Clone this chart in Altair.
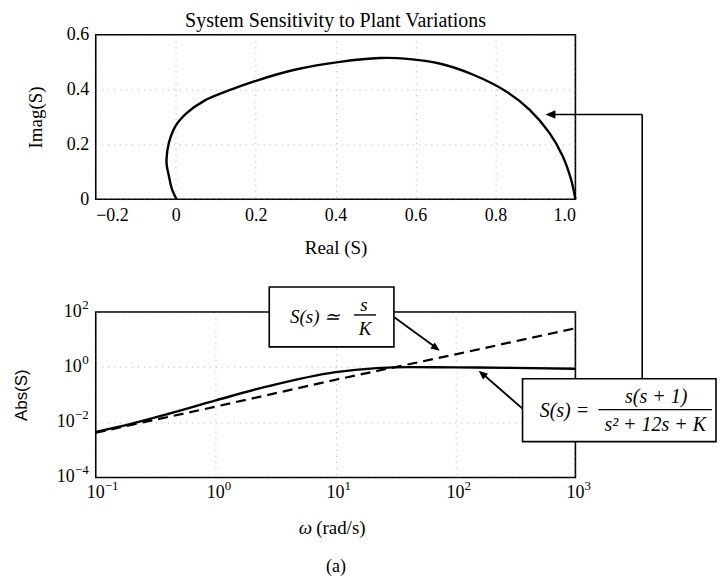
import altair as alt
import pandas as pd

# ---------------- data ----------------
re_s = [0.002, -0.01, -0.017, -0.022, -0.023, -0.017, -0.0005, 0.028, 0.07, 0.128, 0.203,
        0.303, 0.411, 0.511, 0.58, 0.66, 0.743, 0.826, 0.885, 0.935, 0.968, 0.989, 1.0]
im_s = [0.0, 0.04, 0.085, 0.12, 0.145, 0.206, 0.267, 0.315, 0.358, 0.394, 0.433,
        0.474, 0.501, 0.515, 0.512, 0.495, 0.455, 0.394, 0.327, 0.242, 0.158, 0.073, 0.0]

w_solid = [0.1, 0.2, 0.4, 1, 2.7, 10, 22, 42, 100, 300, 1000]
abs_solid = [0.0045, 0.009, 0.02, 0.062, 0.20, 0.66, 0.92, 1.0, 0.98, 0.94, 0.87]
w_dash = [0.1, 1, 10, 100, 1000]
abs_dash = [0.0042, 0.037, 0.35, 2.9, 25.7]

top_xticks = [-0.2, 0, 0.2, 0.4, 0.6, 0.8, 1.0]
top_yticks = [0, 0.2, 0.4, 0.6]
bot_xticks = [0.1, 1, 10, 100, 1000]
bot_xexp = ["\u22121", "0", "1", "2", "3"]
bot_yticks_pos = [1, 100]
bot_yexp_pos = ["0", "2"]
bot_yticks_neg = [1e-4, 1e-2]
bot_yexp_neg = ["\u22124", "\u22122"]

title_text = "System Sensitivity to Plant Variations"

W, H1, H2 = 481, 165, 166
SERIF = "Liberation Serif"
SANS = "Liberation Sans"
FS = 18      # tick labels
FE = 13      # exponents
FT = 19      # axis titles

one = pd.DataFrame({"z": [0]})

# ---------------- top panel ----------------
df_top = pd.DataFrame({"re": re_s, "im": im_s, "k": list(range(len(re_s)))})

lab_top_x = ("datum.value == 0 ? '0' : (datum.value < 0 ? '\u2212' + format(-datum.value, '.1f')"
             " : format(datum.value, '.1f'))")
lab_top_y = "datum.value == 0 ? '0' : format(datum.value, '.1f')"

grid_kw = dict(grid=True, gridColor="#777", gridDash=[1, 5], gridOpacity=0.55, gridWidth=1)

x_top = alt.X("re:Q", scale=alt.Scale(domain=[-0.2, 1.0], nice=False, zero=False),
              axis=alt.Axis(values=top_xticks, labelExpr=lab_top_x, title="Real (S)",
                            labelFont=SERIF, labelFontSize=FS, labelColor="black",
                            labelPadding=7, ticks=False, domain=False,
                            titleFont=SERIF, titleFontSize=FT, titleFontWeight="normal",
                            titleColor="black", titleX=W / 2, titleY=48,
                            titleBaseline="middle", titleAlign="center", **grid_kw))
y_top = alt.Y("im:Q", scale=alt.Scale(domain=[0, 0.6], nice=False),
              axis=alt.Axis(values=top_yticks, labelExpr=lab_top_y, title="Imag(S)",
                            labelFont=SERIF, labelFontSize=FS, labelColor="black",
                            labelPadding=7, ticks=False, domain=False,
                            titleFont=SERIF, titleFontSize=FT, titleFontWeight="normal",
                            titleColor="black", titleX=-60, titleY=H1 / 2, titleAngle=270,
                            titleBaseline="middle", titleAlign="center", **grid_kw))

curve = alt.Chart(df_top).mark_line(color="black", strokeWidth=2.4,
                                    interpolate="catmull-rom").encode(
    x=x_top, y=y_top, order=alt.Order("k:Q"))

base = alt.Chart(one)


def rule(x1, y1, x2, y2, w=1.6):
    return base.mark_rule(color="black", strokeWidth=w).encode(
        x=alt.value(x1), y=alt.value(y1), x2=alt.value(x2), y2=alt.value(y2))


def box(x1, y1, x2, y2):
    return base.mark_rect(fill="white", stroke="black", strokeWidth=1.6).encode(
        x=alt.value(x1), y=alt.value(y1), x2=alt.value(x2), y2=alt.value(y2))


def txt(s, x, y, size=19, italic=True, align="center", font=SERIF, baseline="middle"):
    return base.mark_text(text=s, font=font, fontSize=size, fontWeight="normal",
                          fontStyle="italic" if italic else "normal",
                          align=align, baseline=baseline, color="black").encode(
        x=alt.value(x), y=alt.value(y))


ARROW = "M0,0 L-1,-0.42 L-1,0.42 Z"


def head(x, y, ang, size=330):
    return base.mark_point(shape=ARROW, filled=True, size=size, angle=ang,
                           color="black", opacity=1).encode(x=alt.value(x), y=alt.value(y))


title_mark = txt(title_text, W / 2, -24, size=20, italic=False, baseline="top")

bounds_marker = base.mark_rect(color="white").encode(
    x=alt.value(-87), x2=alt.value(-86), y=alt.value(-25), y2=alt.value(-24))

# connector from right box up to the Nyquist curve
conn_v = rule(548, 80, 548, 345)
conn_h = rule(548, 80, 458, 80)
conn_head = head(451, 80, 180, 400)

top = alt.layer(bounds_marker, curve, title_mark, conn_v, conn_h, conn_head).properties(
    width=W, height=H1)

# ---------------- bottom panel ----------------
df_solid = pd.DataFrame({"w": w_solid, "a": abs_solid})
df_dash = pd.DataFrame({"w": w_dash, "a": abs_dash})

x_bot = alt.X("w:Q", scale=alt.Scale(type="log", domain=[0.1, 1000], nice=False),
              axis=alt.Axis(values=bot_xticks, labels=False, title=None,
                            ticks=False, domain=False, **grid_kw))
y_bot = alt.Y("a:Q", scale=alt.Scale(type="log", domain=[1e-4, 100], nice=False),
              axis=alt.Axis(values=bot_yticks_neg + bot_yticks_pos, labels=False,
                            title="Abs(S)", ticks=False, domain=False,
                            titleFont=SANS, titleFontSize=17, titleFontWeight="normal",
                            titleColor="black", titleX=-74, titleY=H2 / 2, titleAngle=270,
                            titleBaseline="middle", titleAlign="center", **grid_kw))

dash_line = alt.Chart(df_dash).mark_line(color="black", strokeWidth=2.2,
                                         strokeDash=[10, 6]).encode(x=x_bot, y=y_bot)
solid_line = alt.Chart(df_solid).mark_line(color="black", strokeWidth=2.4,
                                           interpolate="monotone").encode(x=x_bot, y=y_bot)

# tick labels 10^n built from a base and a raised exponent
df_xl = pd.DataFrame({"w": bot_xticks, "e": bot_xexp})
xl_base = alt.Chart(df_xl).mark_text(text="10", font=SERIF, fontSize=FS, color="black",
                                     align="center", baseline="middle").encode(
    x=x_bot, y=alt.value(H2 + 16))
xl_exp = alt.Chart(df_xl).mark_text(font=SERIF, fontSize=FE, color="black",
                                    align="left", baseline="middle", dx=9).encode(
    x=x_bot, y=alt.value(H2 + 9), text="e:N")

df_yp = pd.DataFrame({"a": bot_yticks_pos, "e": bot_yexp_pos})
df_yn = pd.DataFrame({"a": bot_yticks_neg, "e": bot_yexp_neg})


def ylabels(df, ew):
    b = alt.Chart(df).mark_text(text="10", font=SERIF, fontSize=FS, color="black",
                                align="right", baseline="middle").encode(
        x=alt.value(-7 - ew), y=y_bot)
    e = alt.Chart(df).mark_text(font=SERIF, fontSize=FE, color="black",
                                align="right", baseline="middle", dy=-7).encode(
        x=alt.value(-7), y=y_bot, text="e:N")
    return [b, e]


yl = ylabels(df_yp, 7) + ylabels(df_yn, 14)

# x-axis title with italic omega
xt1 = txt("ω", 217, 217, size=FT, italic=True, align="right")
xt2 = txt("(rad/s)", 221, 217, size=FT, italic=False, align="left")

# box 1: S(s) ~ s/K
box1 = box(174, -25, 299, 35)
t1a = txt("S(s) ≃", 220, 5)
t1b = txt("s", 269, -7)
bar1 = rule(259, 3, 281, 3, 1.4)
t1c = txt("K", 270, 17)
arr1 = rule(299, 5, 340, 35, 1.8)
head1 = head(345, 39, 36.5)

# box 2: S(s) = s(s+1)/(s^2+12s+K)
box2 = box(428, 67, 622, 130)
t2a = txt("S(s) =", 470, 99, size=20)
t2b = txt("s(s + 1)", 562, 85, size=20)
bar2 = rule(504, 98, 618, 98, 1.4)
t2c = txt("s² + 12s + K", 561, 113, size=20)
arr2 = rule(428, 97, 389, 63, 1.8)
head2 = head(384, 59, 220.8)

cap = txt("(a)", 241, 256, size=18, italic=False)

bottom = alt.layer(dash_line, solid_line, xl_base, xl_exp, *yl, xt1, xt2,
                   box1, t1a, t1b, bar1, t1c, arr1, head1,
                   box2, t2a, t2b, bar2, t2c, arr2, head2, cap).properties(
    width=W, height=H2)

chart = alt.vconcat(top, bottom, spacing=113, bounds="flush").properties(
    padding=0, background="white"
).configure_view(stroke="black", strokeWidth=1.6)

chart.save("out.html", embed_options={"renderer": "svg", "actions": False})
